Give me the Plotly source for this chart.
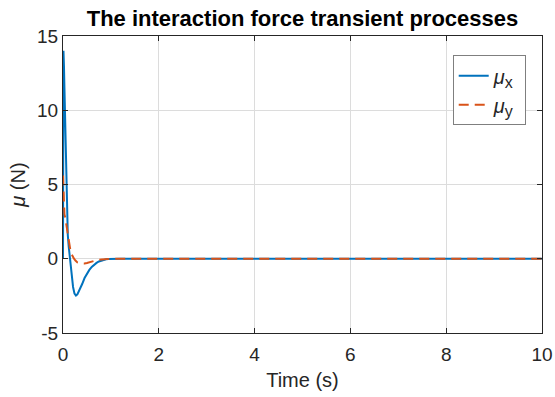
import plotly.graph_objects as go

# time samples (s) and force values (N)
t_x = [0.0, 0.01, 0.02, 0.03, 0.05, 0.065, 0.08, 0.1, 0.12, 0.15, 0.18, 0.21, 0.24, 0.27, 0.3, 0.35,
       0.4, 0.45, 0.5, 0.55, 0.6, 0.65, 0.7, 0.75, 0.8, 0.85, 0.9, 0.95, 1.0, 1.1, 1.2, 2.0, 4.0, 6.0, 8.0, 10.0]
mu_x = [0.0, 14.0, 13.0, 11.5, 8.7, 5.5, 2.9, 1.6, 0.8, 0.0, -1.2, -1.9, -2.35, -2.48, -2.4, -2.1,
        -1.7, -1.3, -1.0, -0.75, -0.55, -0.4, -0.28, -0.18, -0.12, -0.07, -0.04, -0.02, -0.01, 0.0, 0.0, 0.0, 0.0, 0.0, 0.0, 0.0]

t_y = [0.0, 0.01, 0.02, 0.03, 0.05, 0.08, 0.11, 0.13, 0.15, 0.18, 0.2, 0.23, 0.26, 0.3, 0.35, 0.4,
       0.45, 0.5, 0.55, 0.6, 0.7, 0.8, 0.9, 1.0, 1.2, 2.0, 4.0, 6.0, 8.0, 10.0]
mu_y = [5.6, 4.5, 3.5, 3.0, 2.7, 2.0, 1.5, 1.0, 0.65, 0.3, 0.15, 0.0, -0.12, -0.25, -0.3, -0.33,
        -0.32, -0.28, -0.23, -0.18, -0.1, -0.05, -0.02, 0.0, 0.0, 0.0, 0.0, 0.0, 0.0, 0.0]

x_ticks = [0, 2, 4, 6, 8, 10]
x_labels = ["0", "2", "4", "6", "8", "10"]
y_ticks = [-5, 0, 5, 10, 15]
y_labels = ["-5", "0", "5", "10", "15"]

FONT = "Liberation Sans, Arial, sans-serif"
TXT = "#262626"

fig = go.Figure()
fig.add_trace(go.Scatter(x=t_x, y=mu_x, mode="lines",
                         name="<i>μ</i><sub><span style='font-size:16px'>x</span></sub>&nbsp;",
                         line=dict(color="#0072BD", width=2)))
fig.add_trace(go.Scatter(x=t_y, y=mu_y, mode="lines",
                         name="<i>μ</i><sub><span style='font-size:16px'>y</span></sub>&nbsp;",
                         line=dict(color="#D95319", width=2, dash="10px,6px")))

axis_common = dict(showgrid=True, gridcolor="#dcdcdc", gridwidth=1, zeroline=False,
                   showline=True, linecolor="#262626", linewidth=1, mirror="ticks",
                   ticks="inside", ticklen=5, tickcolor="#262626", automargin=False,
                   tickfont=dict(family=FONT, size=19, color=TXT))

fig.update_layout(
    width=555, height=397,
    margin=dict(l=63, r=13, t=36, b=64),
    paper_bgcolor="white", plot_bgcolor="white",
    title=dict(text="<b>The interaction force transient processes</b>",
               x=0.5, xref="paper", xanchor="center", y=0.955, yanchor="middle",
               font=dict(family=FONT, size=22, color="black")),
    xaxis=dict(range=[0, 10], tickvals=x_ticks, ticktext=x_labels, ticklabelstandoff=4,
               title=dict(text="Time (s)", font=dict(family=FONT, size=20, color=TXT), standoff=9),
               **axis_common),
    yaxis=dict(range=[-5, 15], tickvals=y_ticks, ticktext=y_labels,
               title=dict(text="<i>μ</i> (N)", font=dict(family=FONT, size=20, color=TXT), standoff=6),
               **axis_common),
    legend=dict(x=0.966, y=0.935, xanchor="right", yanchor="top",
                bgcolor="white", bordercolor="#7f7f7f", borderwidth=1,
                font=dict(family=FONT, size=20, color=TXT)),
    showlegend=True,
)

fig.write_html("out.html")
